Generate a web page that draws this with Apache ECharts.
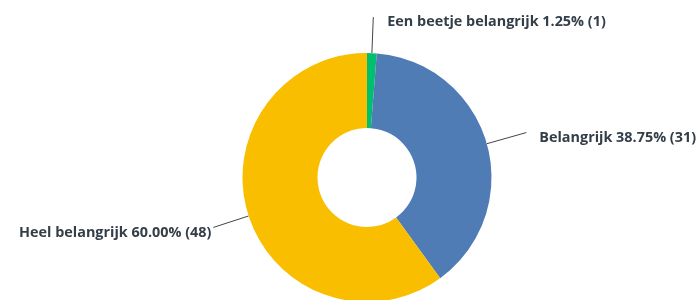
<!DOCTYPE html>
<html>
<head>
<meta charset="utf-8">
<script src="https://cdn.jsdelivr.net/npm/echarts@6/dist/echarts.min.js"></script>
<style>
  html, body { margin: 0; padding: 0; background: #fff; }
  #main { width: 698px; height: 300px; }
</style>
</head>
<body>
<div id="main"></div>
<script>
var categories = ["Een beetje belangrijk", "Belangrijk", "Heel belangrijk"];
var counts = [1, 31, 48];
var colors = ["#00bf6f", "#507cb6", "#f9be00"];

var total = counts.reduce(function (a, b) { return a + b; }, 0);

var myChart = echarts.init(document.getElementById("main"), null, { renderer: "canvas" });

// gap between leader line and text differs a bit per side in the original
var labelGap = [14, 13, 2];
var lineLen = [36, 41, 37];

var option = {
  animation: false,
  series: [
    {
      type: "pie",
      center: [367, 177.5],
      radius: [49.5, 124.5],
      startAngle: 90,
      clockwise: true,
      avoidLabelOverlap: false,
      data: categories.map(function (name, i) {
        return {
          name: name,
          value: counts[i],
          itemStyle: { color: colors[i] },
          label: { distanceToLabelLine: labelGap[i] },
          labelLine: { length: lineLen[i] }
        };
      }),
      label: {
        show: true,
        position: "outside",
        fontFamily: "Open Sans",
        fontWeight: 700,
        fontSize: 14.4,
        color: "#333e48",
        formatter: function (p) {
          return p.name + " " + (p.value / total * 100).toFixed(2) + "% (" + p.value + ")";
        }
      },
      labelLayout: { dy: 5 },
      labelLine: {
        show: true,
        length2: 0,
        smooth: 0.3,
        lineStyle: { color: "#444", width: 1 }
      }
    }
  ]
};

myChart.setOption(option);
window.addEventListener("resize", function () {
  myChart.resize();
});
</script>
</body>
</html>
